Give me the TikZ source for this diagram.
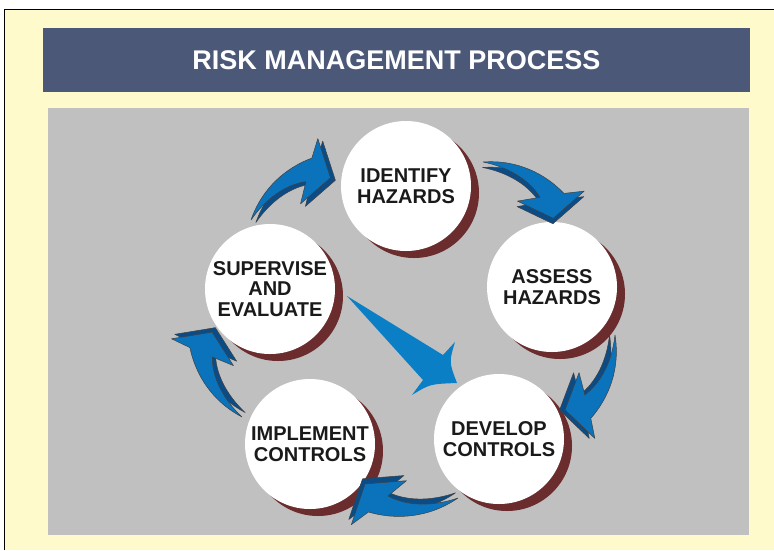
\documentclass[tikz,border=0pt]{standalone}
\usepackage{fontspec}
\setmainfont{Liberation Sans}
\usepackage{tikz}
\usetikzlibrary{shadows}
\definecolor{pageyellow}{HTML}{FFFACC}
\definecolor{titleblue}{HTML}{4B5878}
\definecolor{panelgray}{HTML}{C0C0C0}
\definecolor{rimred}{HTML}{6B2C2E}
\definecolor{swooshblue}{HTML}{0A73BC}
\definecolor{swooshdark}{HTML}{0B4C86}
\definecolor{pointerblue}{HTML}{0A7FC6}
\definecolor{inktext}{HTML}{1A1A1A}

\newcommand{\swooshpath}{(0,0) .. controls (0.28,-0.26) and (0.62,-0.33) .. (0.92,-0.29) -- (1.08,-0.45) -- (1,0) -- (0.57,0.1) -- (0.74,-0.09) .. controls (0.52,-0.17) and (0.25,-0.13) .. (0,0) -- cycle}
\newcommand{\swoosh}[4]{%
  \begin{scope}[shift={(#1,#2)}, rotate=#3, scale=#4]
    \begin{scope}[shift={(0.035,0.05)}]
      \filldraw[swooshside] \swooshpath;
    \end{scope}
    \filldraw[swooshface] \swooshpath;
  \end{scope}}

\begin{document}
\begin{tikzpicture}[x=1pt, y=-1pt,
    stage/.style={circle, fill=white, minimum size=130pt, inner sep=0pt, align=center,
      text=inktext, font=\bfseries\fontsize{20}{20.5}\selectfont,
      drop shadow={shadow xshift=8pt, shadow yshift=-7pt, fill=rimred, opacity=1}},
    swooshface/.style={fill=swooshblue, draw=black!75, line width=0.5pt, line join=round},
    swooshside/.style={fill=swooshdark, draw=black!75, line width=0.5pt, line join=round}]
  \useasboundingbox (0,0) rectangle (774,550);
  \fill[pageyellow] (4,9) rectangle (774,550);
  \draw[black, line width=1pt] (4,550) -- (4,9) -- (774,9);
  \node[fill=titleblue, minimum width=707pt, minimum height=64pt, inner sep=0pt, text=white,
    font=\bfseries\fontsize{27}{27}\selectfont] (title) at (396.5,60) {RISK MANAGEMENT PROCESS};
  \fill[panelgray] (48,108) rectangle (749,535);

  \node[stage] (identify) at (406,186) {IDENTIFY\\HAZARDS};
  \node[stage] (assess) at (552,287) {ASSESS\\HAZARDS};
  \node[stage] (develop) at (499,439) {DEVELOP\\CONTROLS};
  \node[stage] (implement) at (310,444) {IMPLEMENT\\CONTROLS};
  \node[stage] (supervise) at (270,289) {SUPERVISE\\AND\\EVALUATE};

  \swoosh{251}{220}{28}{90}
  \swoosh{483}{162}{-38.7}{90}
  \swoosh{615}{335}{-123.7}{90}
  \swoosh{458}{498}{171.4}{94}
  \swoosh{242}{417}{109.4}{90}
  \fill[pointerblue] (347,296) -- (443,355) -- (455,342) .. controls (449,362) .. (457,383)
    .. controls (430,384) .. (412,395) -- (423,380) -- cycle;
\end{tikzpicture}
\end{document}
